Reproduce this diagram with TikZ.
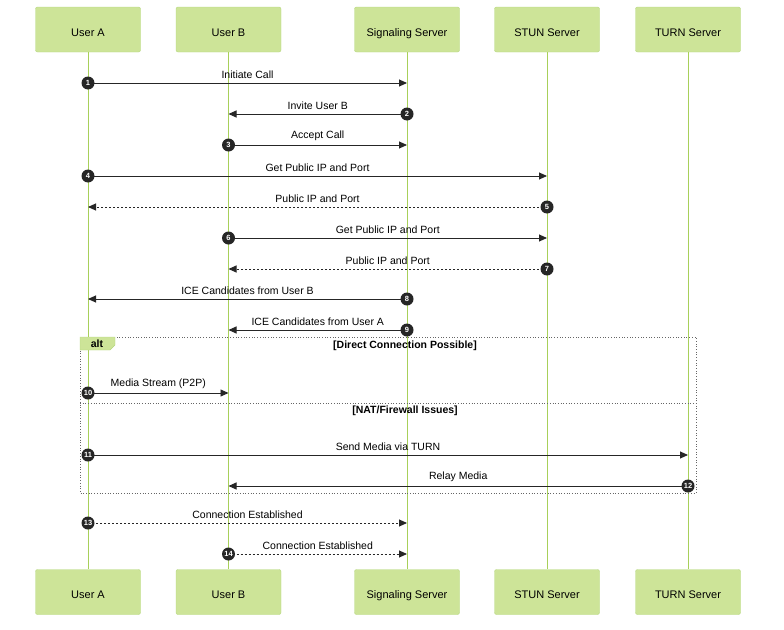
\documentclass[tikz,border=0pt]{standalone}
\usepackage{fontspec}
\setmainfont{Liberation Sans}
\usetikzlibrary{arrows.meta,calc}
\definecolor{actfill}{HTML}{CDE498}
\definecolor{actline}{HTML}{B5D77F}
\definecolor{life}{HTML}{A8D05A}
\begin{document}
\begin{tikzpicture}[x=1pt,y=-1pt,
  actor/.style={draw=actline,fill=actfill,rounded corners=2pt,minimum width=105pt,minimum height=45pt,font=\fontsize{11}{12}\selectfont,inner sep=0,text height=13pt,text depth=0pt},
  lifeline/.style={draw=life,line width=1pt},
  msg/.style={draw=black!85,line width=0.9pt,-{Triangle[length=8pt,width=7pt]}},
  ret/.style={msg,dash pattern=on 2pt off 2pt},
  num/.style={circle,fill=black!85,text=white,inner sep=0,minimum size=13pt,font=\fontsize{7.5}{7.5}\selectfont\bfseries},
  lab/.style={font=\fontsize{10.5}{11}\selectfont,anchor=south,inner sep=1pt},
  grp/.style={draw=black!60,line width=0.7pt,dotted}]
\useasboundingbox (0,0) rectangle (784,629);
\foreach \n/\x/\t in {a/88/User A,b/228.5/User B,s/407/Signaling Server,t/547/STUN Server,u/688/TURN Server}{
  \node[actor] (\n top) at (\x,29.5) {\t};
  \node[actor] (\n bot) at (\x,592) {\t};
  \draw[lifeline] (\n top.south) -- (\n bot.north);
}
% alt frame
\draw[grp] (80,337) rectangle (696,493);
\draw[grp] (80,403) -- (696,403);
\fill[actfill,draw=actline] (80,337) -- (115,337) -- (115,345) -- (110,350) -- (80,350) -- cycle;
\node[font=\fontsize{10.5}{11}\selectfont\bfseries] (alttxt) at (97,343.5) {alt};
\node[font=\fontsize{10.5}{11}\selectfont\bfseries] (c1) at (405,346) {[Direct Connection Possible]};
\node[font=\fontsize{10.5}{11}\selectfont\bfseries] (c2) at (405,411) {[NAT/Firewall Issues]};
\foreach \f/\g/\y/\k/\l/\s in {
  a/s/83/1/Initiate Call/msg,
  s/b/114/2/Invite User B/msg,
  b/s/145/3/Accept Call/msg,
  a/t/176/4/Get Public IP and Port/msg,
  t/a/207/5/Public IP and Port/ret,
  b/t/238/6/Get Public IP and Port/msg,
  t/b/269/7/Public IP and Port/ret,
  s/a/299/8/ICE Candidates from User B/msg,
  s/b/330/9/ICE Candidates from User A/msg,
  a/b/393/10/Media Stream (P2P)/msg,
  a/u/455/11/Send Media via TURN/msg,
  u/b/486/12/Relay Media/msg,
  a/s/523/13/Connection Established/ret,
  b/s/554/14/Connection Established/ret}{
  \coordinate (p\k) at (\f top.south |- 0,\y);
  \coordinate (q\k) at (\g top.south |- 0,\y);
  \draw[\s] (p\k) -- (q\k);
  \node[lab] (l\k) at ($(p\k)!0.5!(q\k)+(0,-3)$) {\l};
  \node[num] (n\k) at (p\k) {\k};
}
\end{tikzpicture}
\end{document}
